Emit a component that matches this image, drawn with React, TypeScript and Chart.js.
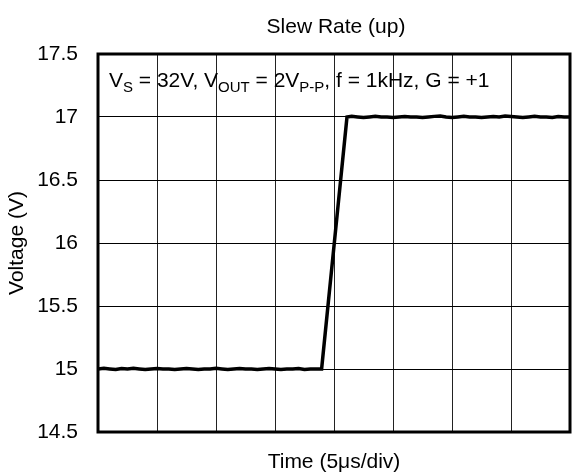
import React, { useEffect, useRef } from "react";
import { Chart, registerables } from "chart.js";

Chart.register(...registerables);

const FONT = "'Liberation Sans', Arial, Helvetica, sans-serif";

const chartTitle = "Slew Rate (up)";
const xAxisTitle = "Time (5μs/div)";
const yAxisTitle = "Voltage (V)";
const yTicks = [14.5, 15, 15.5, 16, 16.5, 17, 17.5];

// time in μs (5 μs per division, 8 divisions)
const timeUs = [
  0, 0.5, 1, 1.5, 2, 2.5, 3, 3.5, 4, 4.5, 5, 5.5, 6, 6.5, 7, 7.5, 8, 8.5, 9, 9.5,
  10, 10.5, 11, 11.5, 12, 12.5, 13, 13.5, 14, 14.5, 15, 15.5, 16, 16.5, 17, 17.5,
  18, 18.5, 18.95, 21.1, 21.5, 22, 22.5, 23, 23.5, 24, 24.5, 25, 25.5, 26, 26.5,
  27, 27.5, 28, 28.5, 29, 29.5, 30, 30.5, 31, 31.5, 32, 32.5, 33, 33.5, 34, 34.5,
  35, 35.5, 36, 36.5, 37, 37.5, 38, 38.5, 39, 39.5, 40,
];

// output voltage (V)
const voltage = [
  15.0, 15.005, 15.0, 14.996, 15.004, 15.0, 15.005, 15.0, 14.996, 15.0, 15.004, 15.0,
  15.0, 14.996, 15.0, 15.004, 15.0, 14.996, 15.0, 15.0, 15.005, 15.0, 14.996, 15.0,
  15.004, 15.0, 15.0, 14.996, 15.0, 15.004, 15.0, 14.996, 15.0, 15.0, 15.004, 14.996,
  15.0, 15.0, 15.0, 17.0, 17.005, 17.0, 16.996, 17.0, 17.005, 17.0, 17.0, 16.996,
  17.0, 17.004, 17.0, 17.0, 16.996, 17.0, 17.005, 17.008, 17.0, 16.996, 17.0, 17.005,
  17.0, 17.0, 16.996, 17.0, 17.004, 17.0, 17.008, 17.004, 17.0, 16.996, 17.0, 17.005,
  17.0, 17.0, 16.996, 17.004, 17.0, 17.0,
];

const annotationParts: { text: string; sub?: boolean }[] = [
  { text: "V" },
  { text: "S", sub: true },
  { text: " = 32V, V" },
  { text: "OUT", sub: true },
  { text: " = 2V" },
  { text: "P-P", sub: true },
  { text: ", f = 1kHz, G = +1" },
];

const framePlugin = {
  id: "frameAndNote",
  afterDraw(chart: any) {
    const { ctx, chartArea } = chart;
    const { left, top, right, bottom } = chartArea;
    ctx.save();
    ctx.strokeStyle = "#000";
    ctx.lineWidth = 3;
    ctx.strokeRect(left, top, right - left, bottom - top);
    ctx.fillStyle = "#000";
    // chart title, centred over the plot area
    ctx.font = `21px ${FONT}`;
    ctx.textAlign = "center";
    ctx.textBaseline = "alphabetic";
    ctx.fillText(chartTitle, (left + right) / 2 + 2, 33);
    // annotation text with subscripts
    let x = left + 11;
    const baseY = top + 33;
    ctx.textAlign = "left";
    for (const p of annotationParts) {
      ctx.font = p.sub ? `15px ${FONT}` : `21px ${FONT}`;
      const y = p.sub ? baseY + 5 : baseY;
      ctx.fillText(p.text, x, y);
      x += ctx.measureText(p.text).width;
    }
    ctx.restore();
  },
};

export default function App() {
  const canvasRef = useRef<HTMLCanvasElement | null>(null);

  useEffect(() => {
    const canvas = canvasRef.current;
    if (!canvas) return;
    const points = timeUs.map((t, i) => ({ x: t, y: voltage[i] }));
    const chart = new Chart(canvas, {
      type: "line",
      data: {
        datasets: [
          {
            data: points,
            borderColor: "#000",
            borderWidth: 3.5,
            pointRadius: 0,
            tension: 0,
            fill: false,
          },
        ],
      },
      options: {
        animation: false,
        responsive: false,
        maintainAspectRatio: false,
        layout: { padding: { top: 54, right: 2, left: 0, bottom: 0 } },
        plugins: {
          legend: { display: false },
          tooltip: { enabled: false },
          title: { display: false },
        },
        scales: {
          x: {
            type: "linear",
            min: 0,
            max: 40,
            ticks: { stepSize: 5, display: false },
            grid: { color: "#222", lineWidth: 1, drawTicks: false },
            border: { display: false },
            title: {
              display: true,
              text: xAxisTitle,
              color: "#000",
              font: { family: FONT, size: 21 },
              padding: { top: 0, bottom: -3 },
            },
            afterFit: (scale: any) => {
              scale.height = 40;
            },
          },
          y: {
            type: "linear",
            min: yTicks[0],
            max: yTicks[yTicks.length - 1],
            afterBuildTicks: (scale: any) => {
              scale.ticks = yTicks.map((v) => ({ value: v }));
            },
            ticks: {
              color: "#000",
              font: { family: FONT, size: 21 },
              padding: 20,
              callback: (v: any) => String(Number(v)),
            },
            grid: { color: "#000", lineWidth: 1, drawTicks: false },
            border: { display: false },
            title: {
              display: true,
              text: yAxisTitle,
              color: "#000",
              font: { family: FONT, size: 21 },
              padding: { top: 5, bottom: 0 },
            },
            afterFit: (scale: any) => {
              scale.width = 98;
            },
          },
        },
      },
      plugins: [framePlugin],
    });
    return () => chart.destroy();
  }, []);

  return (
    <div style={{ position: "absolute", left: 0, top: 0, width: 572, height: 472, background: "#fff" }}>
      <canvas ref={canvasRef} width={572} height={472} style={{ width: 572, height: 472 }} />
    </div>
  );
}
